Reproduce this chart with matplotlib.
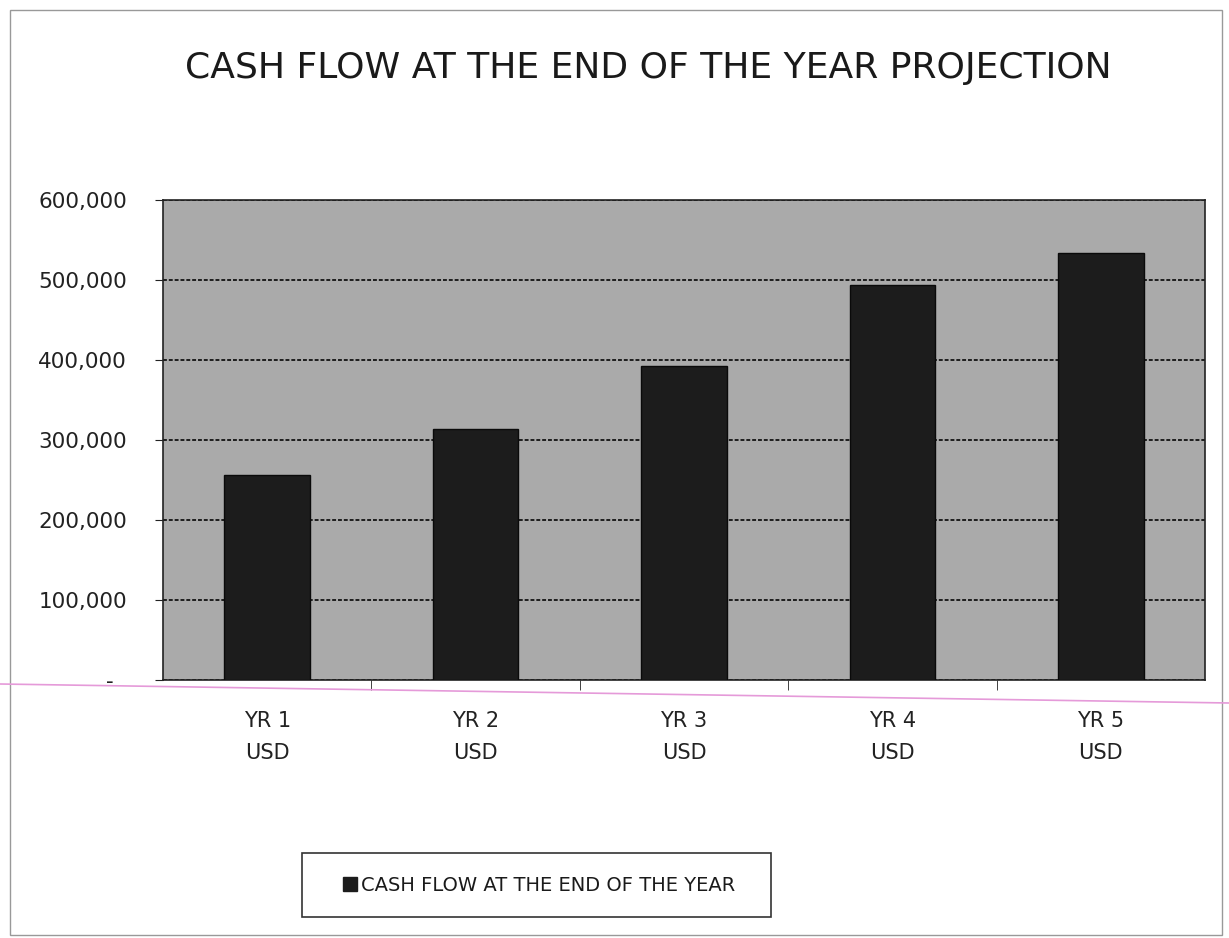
import numpy as np
import matplotlib.pyplot as plt
from matplotlib.ticker import FuncFormatter
from matplotlib.lines import Line2D

# data
years = ['YR 1\nUSD', 'YR 2\nUSD', 'YR 3\nUSD', 'YR 4\nUSD', 'YR 5\nUSD']
cash_flow = [256000, 314000, 392000, 494000, 534000]
series_name = 'CASH FLOW AT THE END OF THE YEAR'
title = 'CASH FLOW AT THE END OF THE YEAR PROJECTION'

plt.rcParams['font.family'] = ['DejaVu Sans']

fig = plt.figure(figsize=(12.29, 9.38), dpi=100)
ax = fig.add_axes([163 / 1229, 1 - 680 / 938, 1042 / 1229, 480 / 938])

x = np.arange(len(years))
ax.set_facecolor('#aaaaaa')
ax.bar(x, cash_flow, width=0.41, color='#1c1c1c', edgecolor='#0a0a0a',
       linewidth=1, zorder=3, label=series_name)

ax.set_xlim(-0.5, len(years) - 0.5)
ax.set_ylim(0, 600000)
ax.set_yticks(np.arange(0, 600001, 100000))
ax.yaxis.set_major_formatter(FuncFormatter(lambda v, p: '-  ' if v == 0 else f'{int(v):,}'))
ax.grid(axis='y', color='#1e1e1e', linewidth=1.4, linestyle=(0, (2, 1)), zorder=1)

# category labels between boundary ticks
ax.set_xticks(x)
ax.set_xticklabels(years, fontsize=15, color='#222222', linespacing=1.75)
ax.tick_params(axis='x', length=0, pad=22)
ax.set_xticks(np.arange(0.5, len(years) - 0.5, 1), minor=True)
ax.tick_params(axis='x', which='minor', length=7, direction='out', color='#222222')
ax.tick_params(axis='y', labelsize=15.5, labelcolor='#222222', length=6,
               direction='out', color='#222222', pad=20)

for s in ax.spines.values():
    s.set_color('#222222')
    s.set_linewidth(1.2)

fig.text(648 / 1229, 1 - 68 / 938, title, ha='center', va='center',
         fontsize=26, color='#1a1a1a')

# legend, with its box drawn separately
leg = fig.legend(handles=[plt.Rectangle((0, 0), 1, 1, color='#1c1c1c')],
                 labels=[series_name], loc='center',
                 bbox_to_anchor=(539 / 1229, 1 - 885 / 938),
                 fontsize=14, frameon=False, handlelength=0.7,
                 handleheight=0.7, handletextpad=0.2, borderaxespad=0)
for t in leg.get_texts():
    t.set_color('#1a1a1a')
fig.add_artist(plt.Rectangle((302 / 1229, 1 - 917 / 938), 469 / 1229, 64 / 938,
                             transform=fig.transFigure, fill=False,
                             edgecolor='#333333', linewidth=1.2))

# outer border of the chart and the pink scan line
fig.add_artist(plt.Rectangle((10 / 1229, 3 / 938), 1212 / 1229, 925 / 938,
                             transform=fig.transFigure, fill=False,
                             edgecolor='#999999', linewidth=1))
fig.add_artist(Line2D([0, 1], [1 - 684 / 938, 1 - 703 / 938], transform=fig.transFigure,
                      color='#e59ad9', linewidth=1.2))

plt.savefig('out.png', dpi=100)
